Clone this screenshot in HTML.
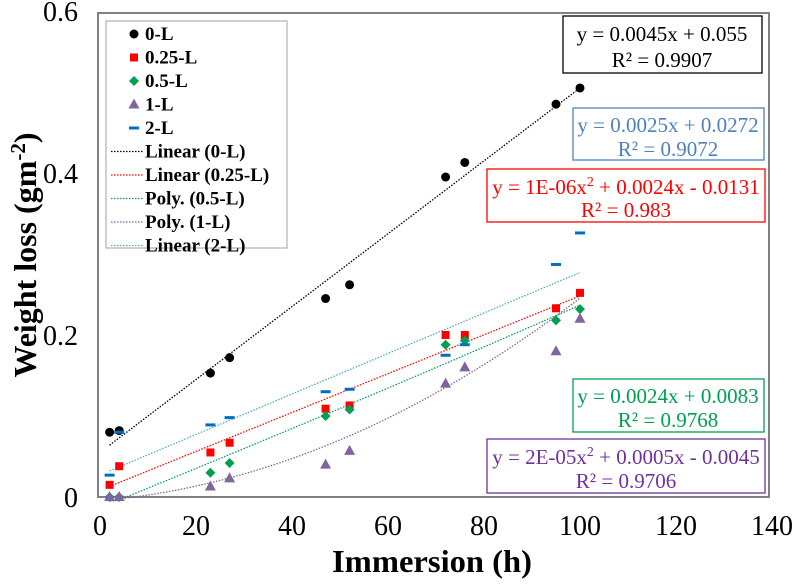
<!DOCTYPE html>
<html><head><meta charset="utf-8"><style>
html,body{margin:0;padding:0;background:#fff;}
svg, svg text{font-family:"Liberation Serif","DejaVu Serif",serif;}
</style></head><body>
<svg id="chart" width="792" height="581" viewBox="0 0 792 581" font-family="Liberation Serif, serif">
<rect x="98" y="13" width="671" height="484" fill="#fff" stroke="#808080" stroke-width="2"/>
<g id="ticks"></g>
<g id="lines"></g>
<g id="marks"></g>
<text x="432" y="572" font-size="32" font-weight="bold" text-anchor="middle" textLength="200" lengthAdjust="spacingAndGlyphs">Immersion (h)</text>
<text transform="translate(36,255) rotate(-90)" font-size="32" font-weight="bold" text-anchor="middle">Weight loss (gm<tspan dy="-11" font-size="21">-2</tspan><tspan dy="11">)</tspan></text>
<g>
<rect x="106" y="21" width="181" height="227" fill="#fff" stroke="#a0a0a0" stroke-width="1"/>
<g id="legend" font-size="19" font-weight="bold"></g>
</g>
<g font-size="21" text-anchor="middle">
<g><rect x="563" y="16" width="199" height="57" fill="#fff" stroke="#000" stroke-width="1.3"/>
<text x="662" y="41" fill="#000">y = 0.0045x + 0.055</text><text x="662" y="67" fill="#000">R² = 0.9907</text></g>
<g><rect x="573" y="108" width="191" height="52" fill="#fff" stroke="#4f81bd" stroke-width="1.3"/>
<text x="668" y="132" fill="#4f81bd">y = 0.0025x + 0.0272</text><text x="668" y="156" fill="#4f81bd">R² = 0.9072</text></g>
<g><rect x="487" y="169" width="278" height="53" fill="#fff" stroke="#ff0000" stroke-width="1.3"/>
<text x="626" y="194" fill="#ff0000">y = 1E-06x<tspan dy="-8" font-size="14">2</tspan><tspan dy="8"> + 0.0024x - 0.0131</tspan></text><text x="626" y="217" fill="#ff0000">R² = 0.983</text></g>
<g><rect x="573" y="379" width="191" height="53" fill="#fff" stroke="#00a050" stroke-width="1.3"/>
<text x="668" y="403" fill="#00a050">y = 0.0024x + 0.0083</text><text x="668" y="427" fill="#00a050">R² = 0.9768</text></g>
<g><rect x="487" y="439" width="278" height="54" fill="#fff" stroke="#7030a0" stroke-width="1.3"/>
<text x="626" y="464" fill="#7030a0">y = 2E-05x<tspan dy="-8" font-size="14">2</tspan><tspan dy="8"> + 0.0005x - 0.0045</tspan></text><text x="626" y="488" fill="#7030a0">R² = 0.9706</text></g>
</g>
</svg>
<script>
const hours=[2,4,23,27,47,52,72,76,95,100];
const s0L=[0.080,0.082,0.153,0.172,0.245,0.262,0.395,0.413,0.485,0.505];
const s025L=[0.015,0.038,0.055,0.067,0.109,0.113,0.200,0.200,0.233,0.252];
const s05L=[0.000,0.000,0.030,0.042,0.100,0.108,0.188,0.193,0.218,0.232];
const s1L=[0.000,0.000,0.013,0.023,0.040,0.057,0.140,0.160,0.180,0.220];
const s2L=[0.027,0.080,0.089,0.098,0.130,0.133,0.175,0.188,0.287,0.326];
const fit0L=[0,0.0045,0.055];
const fit025L=[0,0.0024,0.0083];
const fit05L=[0.000001,0.0024,-0.0131];
const fit1L=[0.00002,0.0005,-0.0045];
const fit2L=[0,0.0025,0.0272];
const xTicks=[0,20,40,60,80,100,120,140];
const yTicks=[0,0.2,0.4,0.6];
const yTickLabels=["0","0.2","0.4","0.6"];
const NS="http://www.w3.org/2000/svg";
const X=v=>100+v*4.8, Y=v=>497-v*810;
function mk(t,a,p){const e=document.createElementNS(NS,t);for(const k in a)e.setAttribute(k,a[k]);p.appendChild(e);return e;}
const tk=document.getElementById('ticks');
xTicks.forEach(v=>{const t=mk('text',{x:X(v),y:535,'font-size':28,'text-anchor':'middle'},tk);t.textContent=v;

});
yTicks.forEach((v,i)=>{const t=mk('text',{x:78,y:Y(v)+10,'font-size':28,'text-anchor':'end'},tk);t.textContent=yTickLabels[i];

});
const series=[
{n:'0L',d:s0L,f:fit0L,c:'#000',lc:'#000',m:'circle',ln:'Linear (0-L)',lab:'0-L'},
{n:'025L',d:s025L,f:fit025L,c:'#ff0000',lc:'#ff0000',m:'square',ln:'Linear (0.25-L)',lab:'0.25-L'},
{n:'05L',d:s05L,f:fit05L,c:'#00a050',lc:'#00a060',m:'diamond',ln:'Poly. (0.5-L)',lab:'0.5-L'},
{n:'1L',d:s1L,f:fit1L,c:'#8064a2',lc:'#8064a2',m:'triangle',ln:'Poly. (1-L)',lab:'1-L'},
{n:'2L',d:s2L,f:fit2L,c:'#0070c0',lc:'#4bacc6',m:'dash',ln:'Linear (2-L)',lab:'2-L'}];
function marker(m,x,y,c,p){
 if(m==='circle')return mk('circle',{cx:x,cy:y,r:4.5,fill:c},p);
 if(m==='square')return mk('rect',{x:x-4,y:y-4,width:8,height:8,fill:c},p);
 if(m==='diamond')return mk('polygon',{points:`${x},${y-5} ${x+5},${y} ${x},${y+5} ${x-5},${y}`,fill:c},p);
 if(m==='triangle')return mk('polygon',{points:`${x},${y-6} ${x+5.5},${y+4} ${x-5.5},${y+4}`,fill:c},p);
 return mk('rect',{x:x-5,y:y-1.5,width:10,height:3,fill:c},p);}
const lg=document.getElementById('lines'),mg=document.getElementById('marks'),leg=document.getElementById('legend');
series.forEach((s,si)=>{
 let pts=[];const x0=hours[0],x1=hours[hours.length-1];
 for(let i=0;i<=60;i++){const h=x0+(x1-x0)*i/60;const v=s.f[0]*h*h+s.f[1]*h+s.f[2];pts.push(X(h).toFixed(1)+','+Y(Math.max(v,-0.005)).toFixed(1));}
 const pl=mk('polyline',{points:pts.join(' '),fill:'none',stroke:s.lc,'stroke-width':1.3,'stroke-dasharray':'1.5 1.5'},lg);
 
 
 s.d.forEach((v,i)=>{const e=marker(s.m,X(hours[i]),Y(v),s.c,mg);
  
  });
 const ly=40+si*23.5;
 const lm=marker(s.m,134,ly-6,s.c,leg);
 
 
 const t=mk('text',{x:145,y:ly},leg);t.textContent=s.lab;
 
 
 const ly2=40+(si+5)*23.5;
 const ll=mk('line',{x1:111,x2:143,y1:ly2-6,y2:ly2-6,stroke:s.lc,'stroke-width':1.3,'stroke-dasharray':'1.5 1.5'},leg);
 
 
 const t2=mk('text',{x:145,y:ly2},leg);t2.textContent=s.ln;
 
 
});
</script>
</body></html>
